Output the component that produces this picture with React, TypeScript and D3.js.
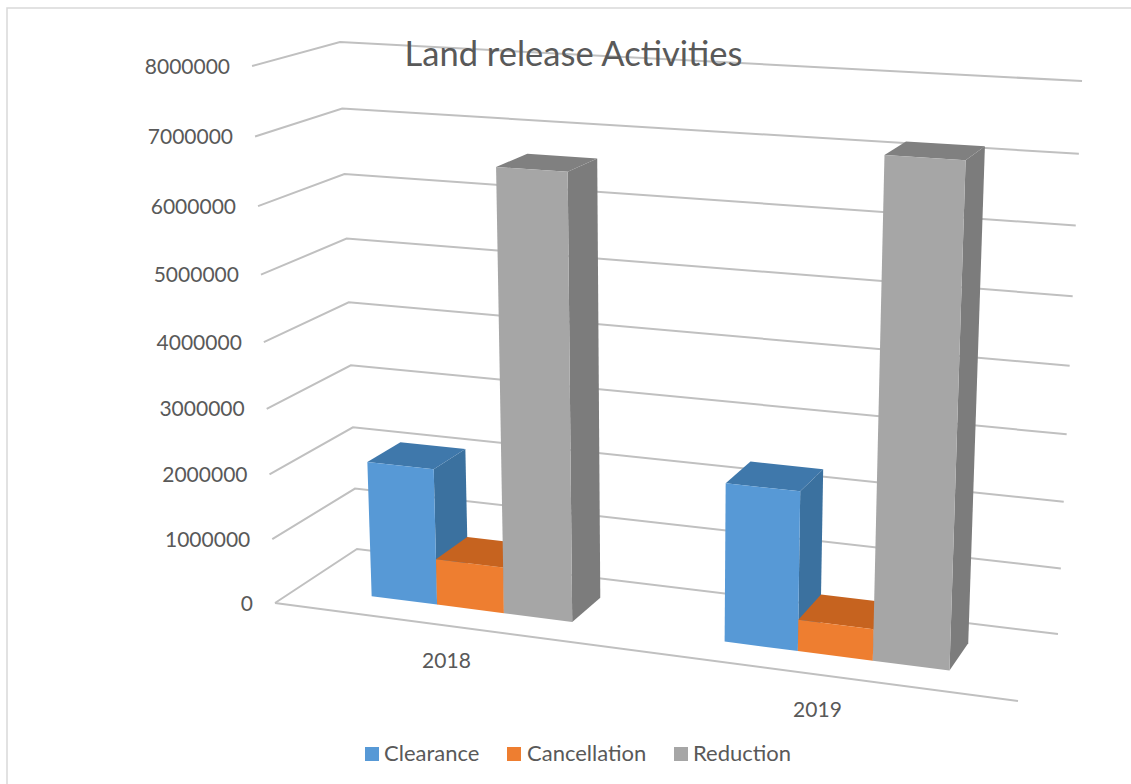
import React from "react";
import * as d3 from "d3";

// Chart values
const categories = ["2018", "2019"];
const seriesNames = ["Clearance", "Cancellation", "Reduction"];
const clearance = [2100000, 2370000];
const cancellation = [710000, 470000];
const reduction = [6650000, 7170000];
const seriesValues = [clearance, cancellation, reduction];
const valueTicks = [0, 1000000, 2000000, 3000000, 4000000, 5000000, 6000000, 7000000, 8000000];

const frontColors = ["#5799d6", "#ee7e30", "#a6a6a6"];
const sideColors = ["#3b719f", "#b05a1c", "#7c7c7c"];
const topColors = ["#3f78ab", "#c6631f", "#808080"];

const VMAX = 8000000;
type Pt = [number, number];

// Floor corners of the 3D box on screen, and the point where its verticals converge
const FL: Pt = [275, 603];
const FR: Pt = [1018, 701];
const BR: Pt = [1058, 634];
const BL: Pt = [357, 549];
const VANISH: Pt = [664, 9700];
const TOP_FL_Y = 66;
// Small per-axis correction to wall height across the width and depth of the box
const HEIGHT_SKEW_U = -0.018;
const HEIGHT_SKEW_W = 0.004;

function makeProjection() {
  const [x0, y0] = FL, [x1, y1] = FR, [x2, y2] = BR, [x3, y3] = BL;
  const dx1 = x1 - x2, dx2 = x3 - x2, sx = x0 - x1 + x2 - x3;
  const dy1 = y1 - y2, dy2 = y3 - y2, sy = y0 - y1 + y2 - y3;
  const det = dx1 * dy2 - dx2 * dy1;
  const g = (sx * dy2 - dx2 * sy) / det;
  const h = (dx1 * sy - sx * dy1) / det;
  const a = x1 - x0 + g * x1, b = x3 - x0 + h * x3, c = x0;
  const d = y1 - y0 + g * y1, e = y3 - y0 + h * y3, f = y0;
  const k = (-(y0 - TOP_FL_Y) / (VANISH[1] - TOP_FL_Y));
  const valueT = d3.scaleLinear().domain([0, VMAX]).range([0, k]);
  return (u: number, w: number, v: number): Pt => {
    const t = valueT(v) * (1 + HEIGHT_SKEW_U * u + HEIGHT_SKEW_W * w);
    const W = g * u + h * w + 1 + t;
    return [(a * u + b * w + c + t * VANISH[0]) / W, (d * u + e * w + f + t * VANISH[1]) / W];
  };
}
const project = makeProjection();

const pathOf = (pts: Pt[]) => d3.line()(pts) as string;
const closed = (pts: Pt[]) => pathOf(pts) + "Z";

const catBand = d3.scaleBand<string>().domain(categories).range([0.005, 1.005]).paddingInner(0.418).paddingOuter(0.209);
const serBand = d3.scaleBand<string>().domain(seriesNames).range([0, catBand.bandwidth()]);
const DEPTH_NEAR = 0.285;
const DEPTH_FAR = 0.7;

const TEXT = "#595959";
const FONT = "Lato, sans-serif";
const GRID = "#c0c0c0";

const legendItems = [
  { x: 365, tx: 384 },
  { x: 507, tx: 527 },
  { x: 674, tx: 693 },
];

export default function App() {
  return (
    <svg width={1131} height={784} style={{ position: "fixed", left: 0, top: 0, background: "#fff" }} fontFamily={FONT}>
      <rect x={7} y={8} width={1300} height={900} fill="#fff" stroke="#d9d9d9" strokeWidth={1.5} />

      {/* Walls: each value traces front-left, back-left, back-right */}
      {valueTicks.map((v) => (
        <path key={v} d={pathOf([project(0, 0, v), project(0, 1, v), project(1, 1, v)])} fill="none" stroke={GRID} strokeWidth={2} />
      ))}
      {/* Front edge of the floor */}
      <path d={pathOf([project(0, 0, 0), project(1, 0, 0)])} fill="none" stroke={GRID} strokeWidth={2} />

      {valueTicks.map((v) => {
        const [x, y] = project(0, 0, v);
        return (
          <text key={v} x={x - 22} y={y - 1} textAnchor="end" dominantBaseline="central" fontSize={21} fill={TEXT}>
            {v}
          </text>
        );
      })}

      {categories.map((cat, ci) =>
        seriesNames.map((name, si) => {
          const u0 = catBand(cat)! + serBand(name)!;
          const u1 = u0 + serBand.bandwidth();
          const v = seriesValues[si][ci];
          const fbl = project(u0, DEPTH_NEAR, 0), fbr = project(u1, DEPTH_NEAR, 0);
          const ftl = project(u0, DEPTH_NEAR, v), ftr = project(u1, DEPTH_NEAR, v);
          const bbr = project(u1, DEPTH_FAR, 0);
          const btl = project(u0, DEPTH_FAR, v), btr = project(u1, DEPTH_FAR, v);
          return (
            <g key={cat + name}>
              <path d={closed([fbr, bbr, btr, ftr])} fill={sideColors[si]} />
              <path d={closed([ftl, ftr, btr, btl])} fill={topColors[si]} />
              <path d={closed([fbl, fbr, ftr, ftl])} fill={frontColors[si]} />
            </g>
          );
        })
      )}

      {categories.map((cat) => {
        const [x, y] = project(catBand(cat)! + catBand.bandwidth() / 2, 0, 0);
        return (
          <text key={cat} x={x - 2} y={y + 34} textAnchor="middle" dominantBaseline="central" fontSize={21} fill={TEXT}>
            {cat}
          </text>
        );
      })}

      <text x={573.5} y={52} textAnchor="middle" dominantBaseline="central" fontSize={34.5} fill={TEXT}>
        Land release Activities
      </text>

      {seriesNames.map((name, i) => (
        <g key={name}>
          <rect x={legendItems[i].x} y={747} width={14} height={14} fill={frontColors[i]} />
          <text x={legendItems[i].tx} y={752.5} dominantBaseline="central" fontSize={22} fill={TEXT}>
            {name}
          </text>
        </g>
      ))}
    </svg>
  );
}
